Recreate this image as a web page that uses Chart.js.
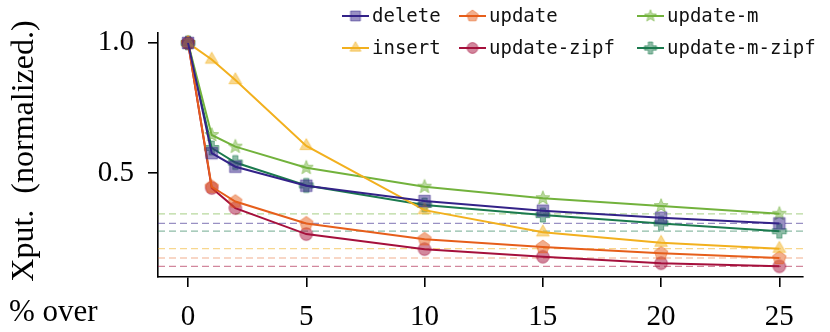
<!DOCTYPE html>
<html>
<head>
<meta charset="utf-8">
<script src="https://cdn.jsdelivr.net/npm/chart.js@4.4.1/dist/chart.umd.min.js"></script>
<style>
  html, body { margin: 0; padding: 0; background: #fff; }
</style>
</head>
<body>
<canvas id="xputChart" width="830" height="332"></canvas>
<script>
// x positions (% over) and axis ticks
const overPct = [0, 1, 2, 5, 10, 15, 20, 25];
const xTicks = [0, 5, 10, 15, 20, 25];
const yTicks = [0.5, 1.0];

// normalized throughput
const deleteXput      = [1.0, 0.576, 0.524, 0.451, 0.392, 0.355, 0.328, 0.306];
const insertXput      = [1.0, 0.936, 0.857, 0.604, 0.357, 0.272, 0.232, 0.209];
const updateXput      = [1.0, 0.447, 0.390, 0.306, 0.245, 0.215, 0.191, 0.173];
const updateZipfXput  = [1.0, 0.442, 0.365, 0.265, 0.207, 0.178, 0.153, 0.141];
const updateMXput     = [1.0, 0.646, 0.601, 0.520, 0.447, 0.403, 0.373, 0.343];
const updateMZipfXput = [1.0, 0.596, 0.540, 0.452, 0.377, 0.338, 0.306, 0.276];

const seriesNames = ['delete', 'insert', 'update', 'update-zipf', 'update-m', 'update-m-zipf'];
const seriesValues = [deleteXput, insertXput, updateXput, updateZipfXput, updateMXput, updateMZipfXput];

// styling
const seriesColors = ['#332288', '#f2b01e', '#e65e1b', '#a5103c', '#72b23c', '#1b7a4e'];
const seriesShapes = ['square', 'triangle', 'pentagon', 'circle', 'star', 'plus'];

const X_MIN = -1.27, X_MAX = 26.0;
const Y_MIN = 0.1, Y_MAX = 1.038;

function rgba(hex, a) {
    const n = parseInt(hex.slice(1), 16);
    return `rgba(${(n >> 16) & 255}, ${(n >> 8) & 255}, ${n & 255}, ${a})`;
}

function makeMarker(shape, size, color) {
    const pad = 2;
    const c = document.createElement('canvas');
    c.width = c.height = Math.ceil(size + pad * 2);
    const g = c.getContext('2d');
    const m = c.width / 2, r = size / 2;
    g.fillStyle = rgba(color, 0.5);
    g.strokeStyle = rgba(color, 0.55);
    g.lineWidth = 1;
    g.beginPath();
    const poly = (n, rad, start, inner) => {
        const pts = inner ? n * 2 : n;
        for (let i = 0; i < pts; i++) {
            const rr = inner && i % 2 ? inner : rad;
            const a = start + i * 2 * Math.PI / pts;
            const px = m + rr * Math.cos(a), py = m + rr * Math.sin(a);
            i ? g.lineTo(px, py) : g.moveTo(px, py);
        }
        g.closePath();
    };
    switch (shape) {
        case 'square': g.rect(m - r * 0.82, m - r * 0.82, r * 1.64, r * 1.64); break;
        case 'triangle': poly(3, r * 1.05, -Math.PI / 2); break;
        case 'pentagon': poly(5, r, -Math.PI / 2); break;
        case 'circle': g.arc(m, m, r * 0.9, 0, Math.PI * 2); break;
        case 'star': poly(5, r * 1.05, -Math.PI / 2, r * 0.45); break;
        case 'plus': {
            const w = r * 0.36;
            g.moveTo(m - w, m - r); g.lineTo(m + w, m - r); g.lineTo(m + w, m - w);
            g.lineTo(m + r, m - w); g.lineTo(m + r, m + w); g.lineTo(m + w, m + w);
            g.lineTo(m + w, m + r); g.lineTo(m - w, m + r); g.lineTo(m - w, m + w);
            g.lineTo(m - r, m + w); g.lineTo(m - r, m - w); g.lineTo(m - w, m - w);
            g.closePath();
            break;
        }
    }
    g.fill();
    g.stroke();
    return c;
}

const plotMarkers = seriesShapes.map((s, i) => makeMarker(s, 14, seriesColors[i]));
const legendMarkers = seriesShapes.map((s, i) => makeMarker(s, 12, seriesColors[i]));

const mainSets = seriesNames.map((name, i) => ({
    label: name,
    data: overPct.map((x, j) => ({ x: x, y: seriesValues[i][j] })),
    borderColor: seriesColors[i],
    borderWidth: 2,
    tension: 0,
    pointStyle: plotMarkers[i],
    pointRadius: 7,
    order: 1
}));

// dashed reference line at each series' last value
const refSets = seriesNames.map((name, i) => ({
    label: name + ' ref',
    data: [{ x: X_MIN, y: seriesValues[i][seriesValues[i].length - 1] },
           { x: X_MAX, y: seriesValues[i][seriesValues[i].length - 1] }],
    borderColor: rgba(seriesColors[i], 0.5),
    borderWidth: 1.2,
    borderDash: [7, 4],
    pointRadius: 0,
    order: 2
}));

const extras = {
    id: 'extras',
    afterDraw(chart) {
        const ctx = chart.ctx;
        ctx.save();
        ctx.fillStyle = '#000';

        // y axis label
        ctx.save();
        ctx.translate(33, 151);
        ctx.rotate(-Math.PI / 2);
        ctx.font = '32px "Liberation Serif"';
        ctx.textAlign = 'center';
        ctx.textBaseline = 'alphabetic';
        ctx.fillText('Xput.  (normalized.)', 0, 0);
        ctx.restore();

        // bottom-left fragment of x label
        ctx.font = '31px "Liberation Serif"';
        ctx.textAlign = 'left';
        ctx.textBaseline = 'alphabetic';
        ctx.fillText('% over', 9, 321);

        // legend, 3 columns filled column-wise
        const colX = [342, 459, 637];
        const rowY = [16, 48];
        ctx.font = '19px "DejaVu Sans Mono"';
        ctx.textBaseline = 'middle';
        seriesNames.forEach((name, i) => {
            const x = colX[Math.floor(i / 2)], y = rowY[i % 2];
            ctx.strokeStyle = seriesColors[i];
            ctx.lineWidth = 2;
            ctx.beginPath();
            ctx.moveTo(x, y);
            ctx.lineTo(x + 27, y);
            ctx.stroke();
            const mk = legendMarkers[i];
            ctx.drawImage(mk, x + 13.5 - mk.width / 2, y - mk.height / 2);
            ctx.fillStyle = '#111';
            ctx.fillText(name, x + 30, y + 1);
        });
        ctx.restore();
    }
};

const tickFont = { family: '"Liberation Serif"', size: 29 };

new Chart(document.getElementById('xputChart').getContext('2d'), {
    type: 'line',
    data: { datasets: [...mainSets, ...refSets] },
    options: {
        responsive: false,
        animation: false,
        devicePixelRatio: 1,
        layout: { padding: { top: 33, right: 27, left: 0, bottom: 0 } },
        plugins: { legend: { display: false }, tooltip: { enabled: false } },
        scales: {
            x: {
                type: 'linear',
                min: X_MIN,
                max: X_MAX,
                afterBuildTicks: scale => { scale.ticks = xTicks.map(v => ({ value: v })); },
                afterFit: scale => { scale.height = 55; },
                border: { display: true, color: '#000', width: 1.6 },
                grid: { drawOnChartArea: false, drawTicks: true, tickLength: 10, color: '#000', lineWidth: 1.6 },
                ticks: { font: tickFont, color: '#000', padding: 13, maxRotation: 0, callback: v => v }
            },
            y: {
                min: Y_MIN,
                max: Y_MAX,
                afterBuildTicks: scale => { scale.ticks = yTicks.map(v => ({ value: v })); },
                afterFit: scale => { scale.width = 158; },
                border: { display: true, color: '#000', width: 1.6 },
                grid: { drawOnChartArea: false, drawTicks: true, tickLength: 10, color: '#000', lineWidth: 1.6 },
                ticks: { font: tickFont, color: '#000', padding: 14, callback: v => v.toFixed(1) }
            }
        }
    },
    plugins: [extras]
});
</script>
</body>
</html>
